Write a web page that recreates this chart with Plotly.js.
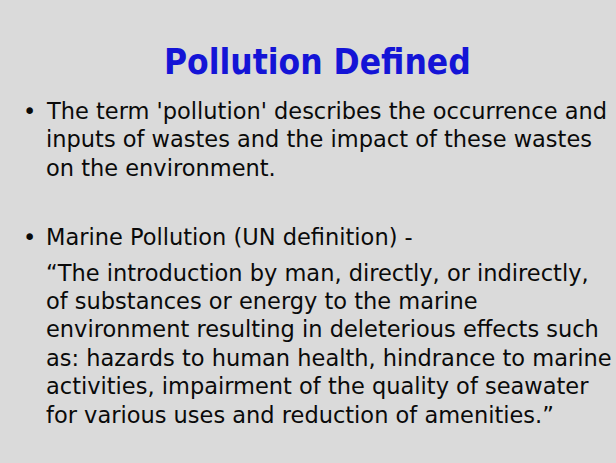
<!DOCTYPE html>
<html>
<head>
<meta charset="utf-8">
<script src="https://cdn.plot.ly/plotly-3.0.1.min.js"></script>
<style>html,body{margin:0;padding:0;background:#dadada;}#chart{width:616px;height:463px;}</style>
</head>
<body>
<div id="chart"></div>
<script>
var titleText = "Pollution Defined";
var bullet1Lines = [
  "The term 'pollution' describes the occurrence and",
  "inputs of wastes and the impact of these wastes",
  "on the environment."
];
var bullet2Head = ["Marine Pollution (UN definition) -"];
var bullet2Quote = [
  "\u201CThe introduction by man, directly, or indirectly,",
  "of substances or energy to the marine",
  "environment resulting in deleterious effects such",
  "as: hazards to human health, hindrance to marine",
  "activities, impairment of the quality of seawater",
  "for various uses and reduction of amenities.\u201D"
];

var W = 616, H = 463;
var bodySize = 22.5;
var lineGap = 28.4;
var bodyFont = {family: "DejaVu Sans, sans-serif", size: bodySize, color: "#0a0a0a"};
function py(p){ return 1 - p / H; }
function px(x){ return x / W; }
function midFromBase(b, size){ return b - 0.3 * size; }

var annotations = [];
annotations.push({text: "<b>" + titleText + "</b>", x: px(317), y: py(midFromBase(72.5, 35)),
  xanchor: "center", yanchor: "middle",
  font: {family: "DejaVu Sans Condensed, DejaVu Sans, sans-serif", size: 35, color: "#1414d6"}});

function addLines(lines, firstBase, x){
  lines.forEach(function(t, i){
    annotations.push({text: t, x: px(x), y: py(midFromBase(firstBase + i * lineGap, bodySize)),
      xanchor: "left", yanchor: "middle", align: "left", font: bodyFont});
  });
}
annotations.push({text: "\u2022", x: px(21), y: py(midFromBase(117.5, bodySize)), xanchor: "left", yanchor: "middle", font: bodyFont});
addLines(bullet1Lines, 117.5, 44);
annotations.push({text: "\u2022", x: px(21), y: py(midFromBase(244, bodySize)), xanchor: "left", yanchor: "middle", font: bodyFont});
addLines(bullet2Head, 244, 44);
addLines(bullet2Quote, 279.3, 44);

annotations.forEach(function(a){ a.xref = "paper"; a.yref = "paper"; a.showarrow = false; });

var layout = {
  width: W, height: H,
  margin: {l: 0, r: 0, t: 0, b: 0},
  paper_bgcolor: "#dadada",
  plot_bgcolor: "#dadada",
  xaxis: {visible: false, range: [0, 1]},
  yaxis: {visible: false, range: [0, 1]},
  showlegend: false,
  annotations: annotations
};
Plotly.newPlot("chart", [], layout, {staticPlot: true, displayModeBar: false});
</script>
</body>
</html>
